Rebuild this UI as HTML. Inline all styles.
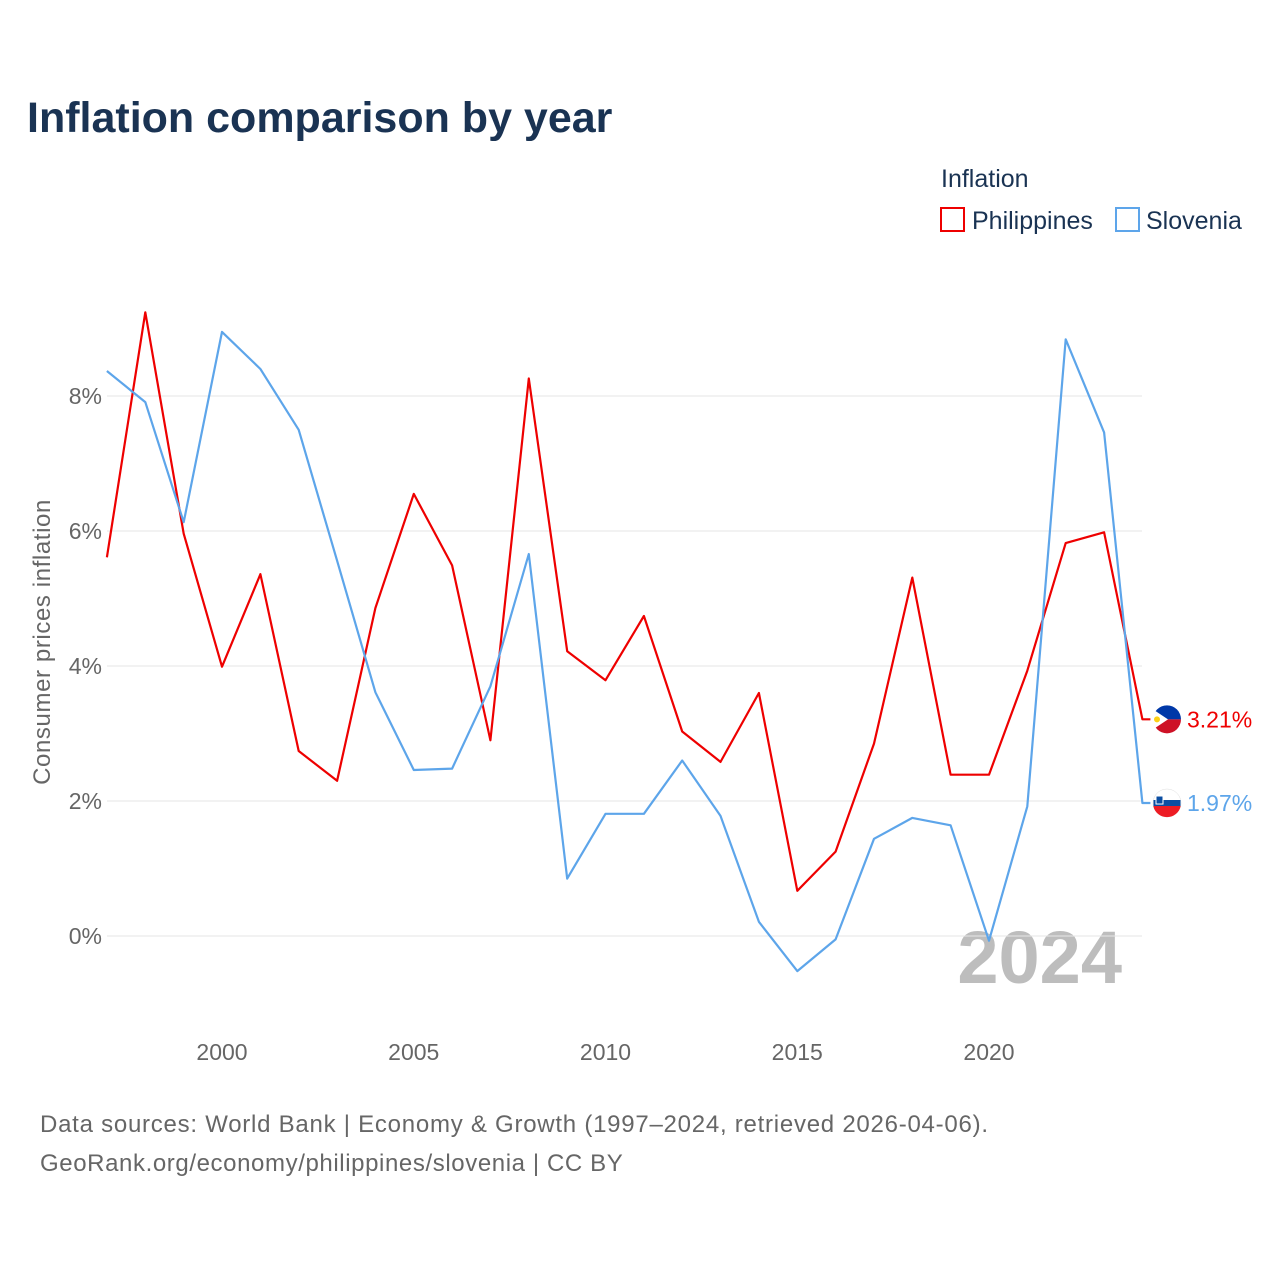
<!DOCTYPE html>
<html><head><meta charset="utf-8">
<style>
body{margin:0;background:#fff;font-family:"Liberation Sans",sans-serif;}
#wrap{position:relative;width:1280px;height:1280px;overflow:hidden;}
</style></head>
<body><div id="wrap">
<svg id="svg" width="1280" height="1280" xmlns="http://www.w3.org/2000/svg">
<text x="27" y="132" font-size="43" font-weight="bold" fill="#1a3353">Inflation comparison by year</text>
<text x="941" y="187" font-size="25" fill="#1a3353">Inflation</text>
<g><rect x="941" y="208" width="23" height="23" fill="none" stroke="#ee0000" stroke-width="2"/><text x="972" y="229" font-size="25" fill="#1a3353">Philippines</text></g>
<g><rect x="1116" y="208" width="23" height="23" fill="none" stroke="#5da5ea" stroke-width="2"/><text x="1146" y="229" font-size="25" fill="#1a3353">Slovenia</text></g>
<text transform="translate(50,642) rotate(-90)" text-anchor="middle" font-size="24" letter-spacing="0.6" fill="#666">Consumer prices inflation</text>
<text x="1122" y="983" text-anchor="end" font-size="74" font-weight="bold" fill="#bdbdbd">2024</text>
<g id="grid"></g><g id="lines"></g><g id="ends"></g>
<text x="40" y="1132" font-size="24" letter-spacing="0.75" fill="#666">Data sources: World Bank | Economy &amp; Growth (1997–2024, retrieved 2026-04-06).</text>
<text x="40" y="1171" font-size="24" letter-spacing="0.6" fill="#666">GeoRank.org/economy/philippines/slovenia | CC BY</text>
</svg></div>
<script>
const years=[1997,1998,1999,2000,2001,2002,2003,2004,2005,2006,2007,2008,2009,2010,2011,2012,2013,2014,2015,2016,2017,2018,2019,2020,2021,2022,2023,2024];
const philippines=[5.61,9.24,5.96,3.99,5.36,2.74,2.30,4.86,6.55,5.49,2.90,8.26,4.22,3.79,4.74,3.03,2.58,3.60,0.67,1.25,2.85,5.31,2.39,2.39,3.93,5.82,5.98,3.21];
const slovenia=[8.37,7.91,6.13,8.95,8.40,7.50,5.56,3.61,2.46,2.48,3.70,5.66,0.85,1.81,1.81,2.60,1.78,0.21,-0.52,-0.05,1.44,1.75,1.64,-0.07,1.92,8.84,7.46,1.97];
const yTicks=[0,2,4,6,8];
const xTicks=[2000,2005,2010,2015,2020];
const NS="http://www.w3.org/2000/svg";
const X=y=>222+(y-2000)*38.35;
const Y=v=>936-v*67.5;
function mk(t,a,p){const e=document.createElementNS(NS,t);for(const k in a)e.setAttribute(k,a[k]);p.appendChild(e);return e;}
const grid=document.getElementById('grid');
yTicks.forEach(v=>{
 const l=mk('line',{x1:107,x2:1142,y1:Y(v),y2:Y(v),stroke:'#e6e6e6','stroke-width':1},grid);
 
 
 const t=mk('text',{x:102,y:Y(v)+8,'text-anchor':'end','font-size':23,fill:'#666'},grid);t.textContent=v+'%';
 
 
});
xTicks.forEach(v=>{
 const t=mk('text',{x:X(v),y:1060,'text-anchor':'middle','font-size':23,fill:'#666'},grid);t.textContent=v;
 
 
});
const lines=document.getElementById('lines'),ends=document.getElementById('ends');
function series(data,color,name){
 let d=data.map((v,i)=>(i?'L':'M')+X(years[i]).toFixed(1)+' '+Y(v).toFixed(1)).join(' ');
 const last=data[data.length-1];
 d+=' L'+(X(2024)+8)+' '+Y(last).toFixed(1);
 const p=mk('path',{d:d,fill:'none',stroke:color,'stroke-width':2.2,'stroke-linejoin':'round'},lines);
 
 
 const cy=Y(last);
 const g=mk('g',{},ends);
 
 
 if(name==='philippines'){
  mk('path',{d:`M1153 ${cy} A14 14 0 0 1 1181 ${cy} Z`,fill:'#0038a8'},g);
  mk('path',{d:`M1153 ${cy} A14 14 0 0 0 1181 ${cy} Z`,fill:'#ce1126'},g);
  mk('path',{d:`M1153 ${cy-10} L1168 ${cy} L1153 ${cy+10} Z`,fill:'#fff'},g);
  mk('circle',{cx:1157,cy:cy,r:3,fill:'#fcd116'},g);
 }else{
  mk('circle',{cx:1167,cy:cy,r:14,fill:'#fff',stroke:'#ddd','stroke-width':0.5},g);
  mk('path',{d:`M1153.5 ${cy-3} L1180.5 ${cy-3} L1180.5 ${cy+3} L1153.5 ${cy+3} Z`,fill:'#0b4ea2'},g);
  mk('path',{d:`M1153.3 ${cy+3} A14 14 0 0 0 1180.7 ${cy+3} Z`,fill:'#ed1c24'},g);
  mk('rect',{x:1156,y:cy-7,width:7,height:8,fill:'#0b4ea2',stroke:'#fff','stroke-width':1},g);
 }
 const t=mk('text',{x:1187,y:cy+8,'font-size':23,fill:color},g);t.textContent=last.toFixed(2)+'%';
}
series(philippines,'#ee0000','philippines');
series(slovenia,'#5da5ea','slovenia');
</script>
</body></html>
